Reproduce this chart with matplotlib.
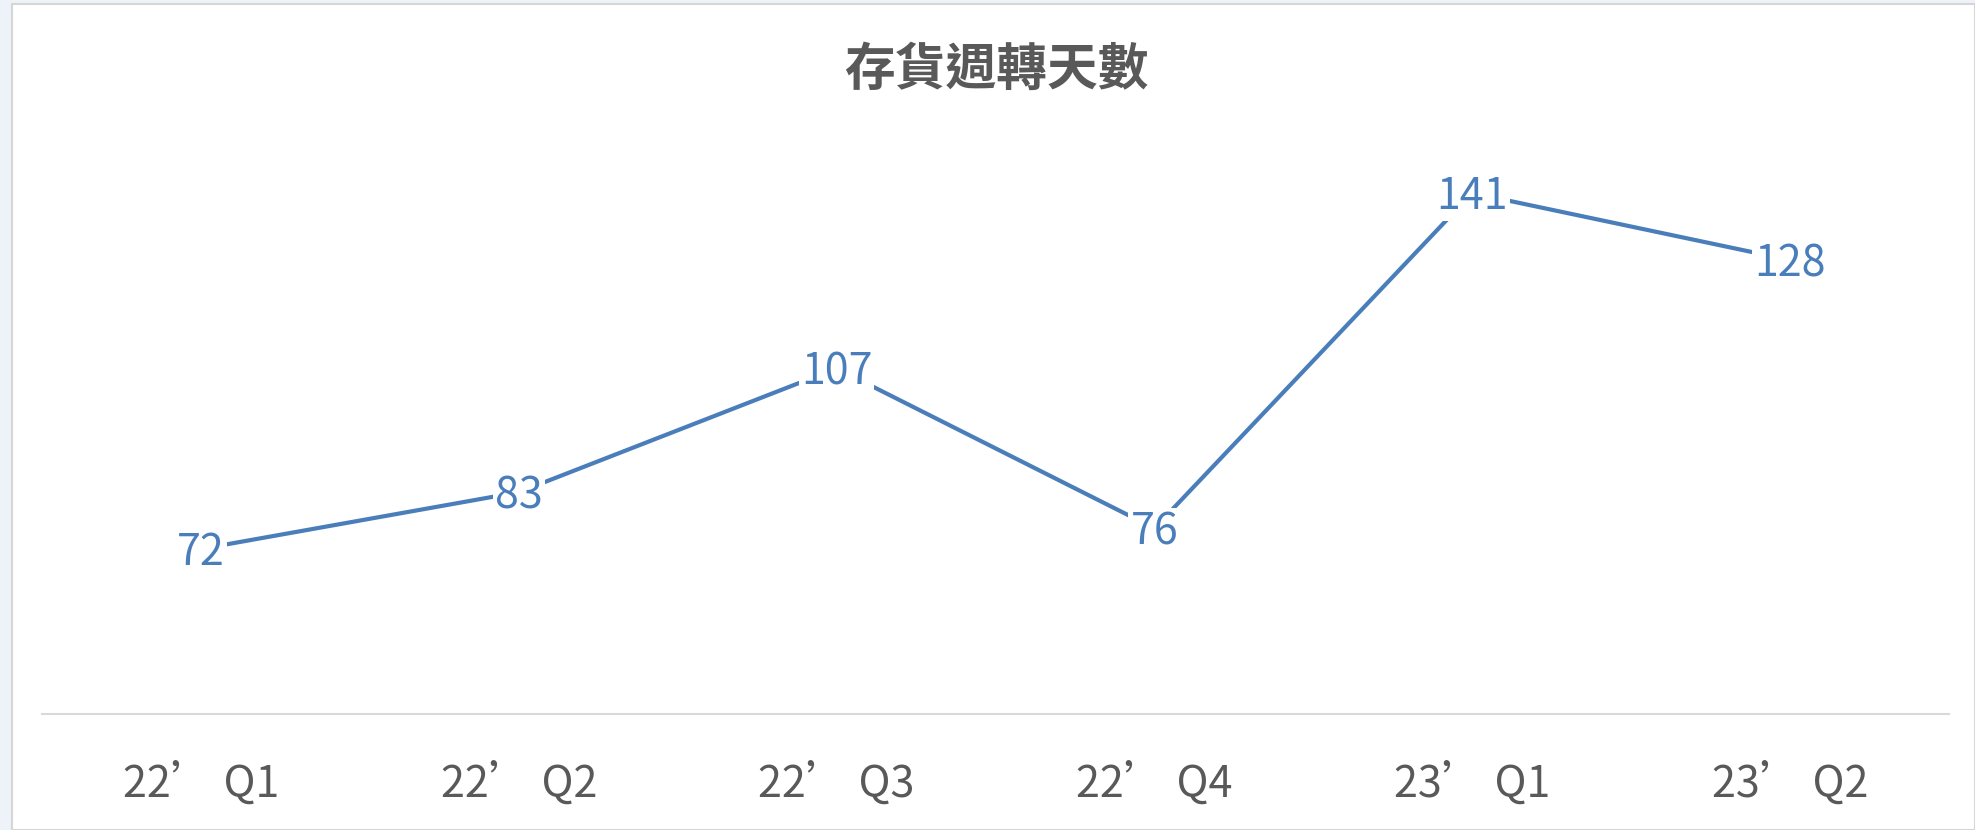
import matplotlib.pyplot as plt
from matplotlib.patches import Rectangle
from matplotlib.transforms import offset_copy

plt.rcParams['font.family'] = ['Noto Sans CJK TC', 'DejaVu Sans']

quarters = ["22’ Q1", "22’ Q2", "22’ Q3", "22’ Q4", "23’ Q1", "23’ Q2"]
days = [72, 83, 107, 76, 141, 128]

line_color = "#4a7ebb"
text_gray = "#595959"

fig = plt.figure(figsize=(19.75, 8.3), dpi=100)
fig.patch.set_facecolor("#eef2f9")

# white chart panel, kept behind the axes
panel = Rectangle((12 / 1975, 0), 1 - 12 / 1975, 1 - 4 / 830,
                  transform=fig.transFigure, facecolor="white",
                  edgecolor="#d6d6d6", linewidth=1.5, zorder=-5)
fig.patches.append(panel)

ax = fig.add_axes([42 / 1975, 116 / 830, 1907 / 1975, 619 / 830])
ax.set_zorder(1)
ax.set_facecolor("none")

x = range(len(quarters))
ax.plot(x, days, color=line_color, linewidth=3.0, solid_capstyle="butt", zorder=2)

# labels sit on the points, white box hides the line behind them
lab_trans = offset_copy(ax.transData, fig=fig, x=0, y=-3, units="points")
for i, v in zip(x, days):
    ax.text(i, v, str(v), ha="center", va="center", fontsize=31,
            color=line_color, zorder=3, transform=lab_trans,
            bbox=dict(boxstyle="square,pad=0.05", facecolor="white", edgecolor="none"))

ax.set_xlim(-0.5, len(quarters) - 0.5)
ax.set_ylim(40, 160)
ax.set_xticks(list(x))
ax.set_xticklabels(quarters, fontsize=31, color=text_gray)
ax.tick_params(axis="x", length=0, pad=35)
ax.set_yticks([])

for s in ["top", "right", "left"]:
    ax.spines[s].set_visible(False)
ax.spines["bottom"].set_color("#d9d9d9")
ax.spines["bottom"].set_linewidth(1.5)

fig.text(996 / 1975, 1 - 70 / 830, "存貨週轉天數", ha="center", va="center",
         fontsize=36.5, fontweight="bold", color=text_gray)

fig.savefig("out.png", dpi=100, facecolor=fig.get_facecolor())
